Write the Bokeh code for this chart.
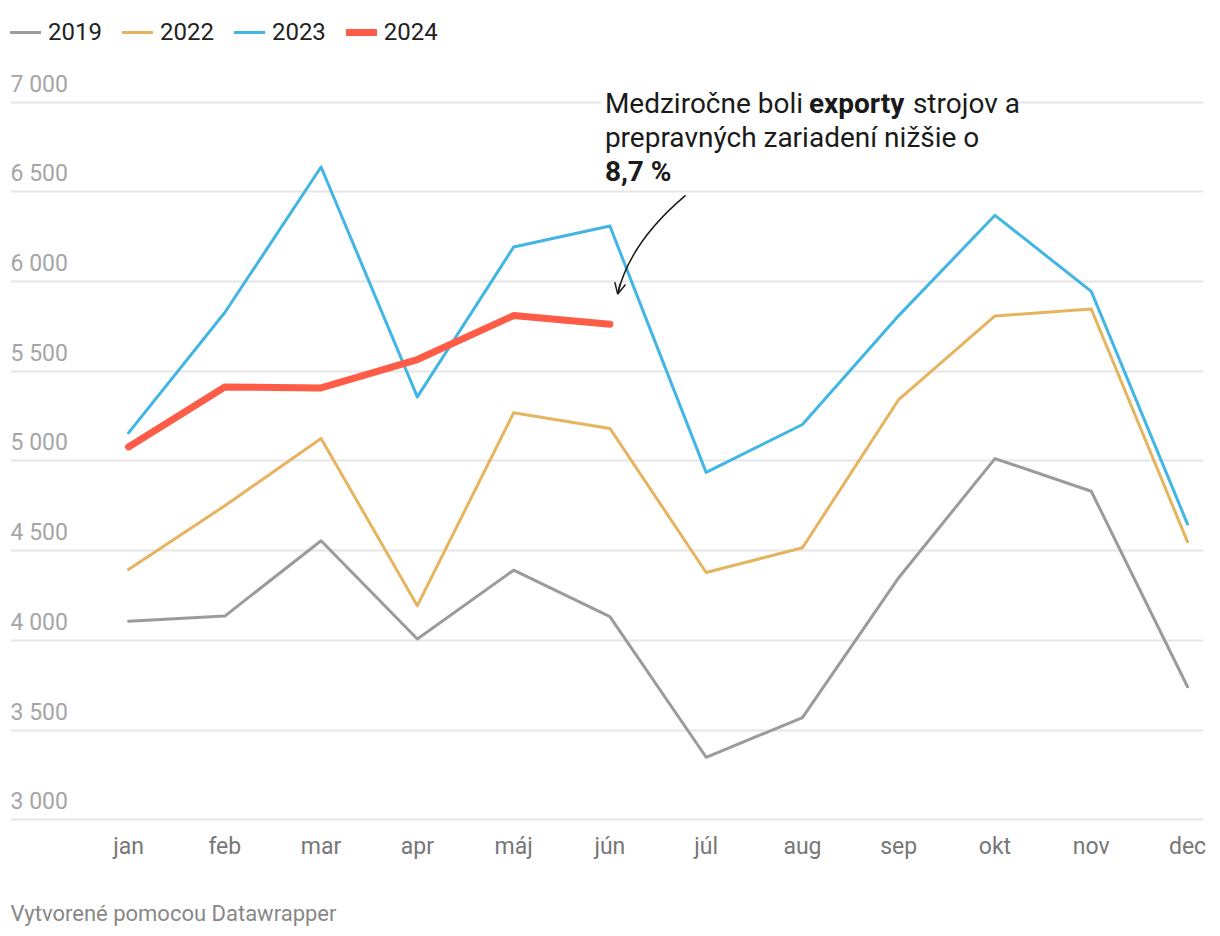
from bokeh.plotting import figure
from bokeh.models import (FixedTicker, Legend, LegendItem, Label, Arrow, OpenHead,
                          Range1d, ColumnDataSource, LinearAxis)
from bokeh.core.properties import value
from bokeh.embed import file_html
from bokeh.resources import INLINE

months = ["jan", "feb", "mar", "apr", "máj", "jún", "júl", "aug", "sep", "okt", "nov", "dec"]
v2019 = [4106, 4135, 4555, 4007, 4391, 4132, 3348, 3569, 4349, 5013, 4831, 3741]
v2022 = [4395, 4750, 5125, 4193, 5268, 5181, 4378, 4516, 5342, 5808, 5847, 4549]
v2023 = [5156, 5827, 6638, 5357, 6192, 6309, 4936, 5203, 5810, 6369, 5945, 4648]
v2024 = [5078, 5412, 5407, 5565, 5810, 5762]
y_ticks = [3000, 3500, 4000, 4500, 5000, 5500, 6000, 6500, 7000]
y_tick_labels = ["3 000", "3 500", "4 000", "4 500", "5 000", "5 500", "6 000", "6 500", "7 000"]
credit = "Vytvorené pomocou Datawrapper"

FONT = "Roboto"
X0, X1 = -1.226, 11.166
Y0, Y1 = 2990, 7466

p = figure(width=1212, height=928, x_range=Range1d(X0, X1), y_range=Range1d(Y0, Y1),
           output_backend="svg", toolbar_location=None,
           min_border_left=10, min_border_right=9, min_border_top=18, min_border_bottom=106)
p.outline_line_color = None
p.background_fill_color = "white"
p.yaxis.visible = False
p.xgrid.visible = False
p.ygrid.ticker = FixedTicker(ticks=y_ticks)
p.ygrid.grid_line_color = "#e6e6e6"
p.ygrid.grid_line_width = 2

ax = p.xaxis[0]
ax.ticker = FixedTicker(ticks=list(range(12)))
ax.major_label_overrides = {i: m for i, m in enumerate(months)}
ax.axis_line_color = None
ax.major_tick_line_color = None
ax.minor_tick_line_color = None
ax.major_label_text_font = FONT
ax.major_label_text_font_size = "23px"
ax.major_label_text_color = "#777777"
ax.major_label_standoff = 5

# credit line as a second, tick-less axis below the month axis (label centred on its tick)
credit_pos = 0.1366
p.extra_x_ranges = {"credit": Range1d(0, 1)}
cax = LinearAxis(x_range_name="credit", ticker=FixedTicker(ticks=[credit_pos]),
                 major_label_overrides={credit_pos: credit},
                 axis_line_color=None, major_tick_line_color=None, minor_tick_line_color=None,
                 major_tick_out=0, major_tick_in=0, minor_tick_out=0,
                 major_label_standoff=38,
                 major_label_text_font=FONT, major_label_text_font_size="22px",
                 major_label_text_color="#888888")
p.add_layout(cax, "below")

# y tick labels above grid lines
ysrc = ColumnDataSource(dict(x=[X0] * len(y_ticks), y=y_ticks, t=y_tick_labels))
p.text(x="x", y="y", text="t", source=ysrc, text_font=value(FONT), text_font_size="23px",
       text_color="#a6a6a6", text_align="left", text_baseline="middle", y_offset=-18)

xs = list(range(12))
r19 = p.line(xs, v2019, line_color="#9b9b9b", line_width=3, line_join="round", line_cap="round")
r22 = p.line(xs, v2022, line_color="#e6b45f", line_width=3, line_join="round", line_cap="round")
r23 = p.line(xs, v2023, line_color="#41b6e4", line_width=3, line_join="round", line_cap="round")
r24 = p.line(xs[:len(v2024)], v2024, line_color="#fe5c47", line_width=7, line_join="round", line_cap="round")

legend = Legend(items=[LegendItem(label="2019", renderers=[r19]),
                       LegendItem(label="2022", renderers=[r22]),
                       LegendItem(label="2023", renderers=[r23]),
                       LegendItem(label="2024", renderers=[r24])],
                orientation="horizontal", location="top_left",
                label_text_font=FONT, label_text_font_size="24px", label_text_color="#222222",
                glyph_width=31, glyph_height=24, label_height=24, label_standoff=7,
                spacing=20, padding=0, margin=0,
                border_line_alpha=0, background_fill_alpha=0)
p.add_layout(legend)

# annotation
ann_x = 5
def lab(text, xo, y, bold=False, color="#1a1a1a", bg=None):
    l = Label(x=ann_x, y=y, x_offset=xo, text=text, text_font=FONT,
              text_font_size="28px", text_color=color, text_baseline="middle", text_align="left",
              text_font_style="bold" if bold else "normal")
    if bg:
        l.background_fill_color = bg
    p.add_layout(l)
    return l

y_l1, y_l2, y_l3 = 6993, 6800, 6614
lab("Medziročne boli exporty strojov a", -9, y_l1, color="white", bg="white")
lab("Medziročne boli", -5, y_l1)
lab("exporty", 199, y_l1, bold=True)
lab("strojov a", 303, y_l1)
lab("prepravných zariadení nižšie o", -5, y_l2)
lab("8,7 %", -5, y_l3, bold=True)

# curved arrow
a_x0, a_y0 = 5.786, 6480
a_cx, a_cy = 5.204, 6216
a_x1, a_y1 = 5.081, 5930
p.quadratic(x0=[a_x0], y0=[a_y0], x1=[a_x1], y1=[a_y1], cx=[a_cx], cy=[a_cy],
            line_color="#1a1a1a", line_width=1.5)
p.add_layout(Arrow(end=OpenHead(size=11, line_width=1.5, line_color="#1a1a1a"),
                   x_start=a_x1 + 0.2 * (a_cx - a_x1), y_start=a_y1 + 0.2 * (a_cy - a_y1),
                   x_end=a_x1, y_end=a_y1, line_color="#1a1a1a", line_width=1.5))

open("out.html", "w").write(file_html(p, INLINE))
